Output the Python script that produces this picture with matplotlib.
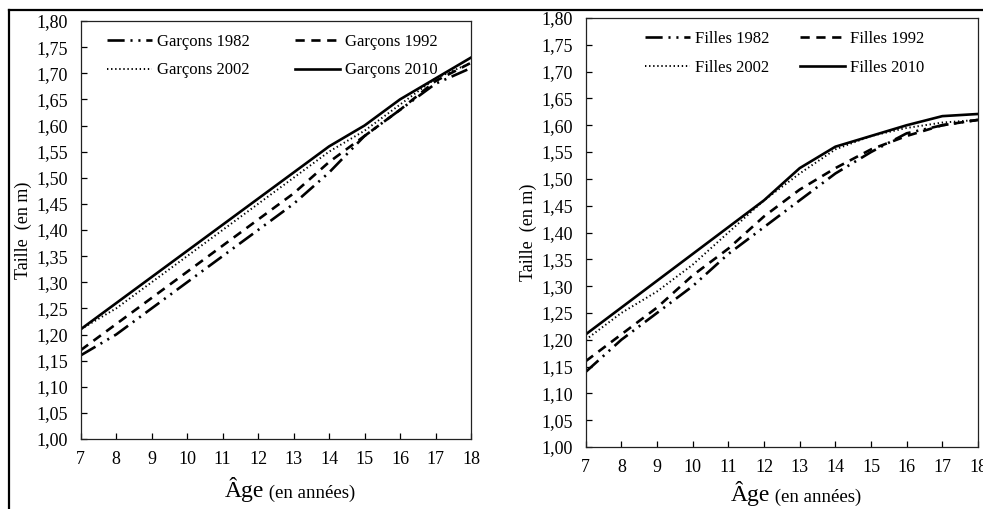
import numpy as np
import matplotlib.pyplot as plt
from matplotlib.lines import Line2D

# ages (years)
ages = [7, 8, 9, 10, 11, 12, 13, 14, 15, 16, 17, 18]

# heights (m) - boys
garcons_1982 = [1.16, 1.20, 1.25, 1.30, 1.35, 1.40, 1.45, 1.51, 1.58, 1.63, 1.68, 1.71]
garcons_1992 = [1.17, 1.22, 1.27, 1.32, 1.37, 1.42, 1.47, 1.53, 1.58, 1.63, 1.685, 1.72]
garcons_2002 = [1.21, 1.25, 1.30, 1.35, 1.40, 1.45, 1.50, 1.55, 1.59, 1.64, 1.69, 1.72]
garcons_2010 = [1.21, 1.26, 1.31, 1.36, 1.41, 1.46, 1.51, 1.56, 1.60, 1.65, 1.69, 1.73]

# heights (m) - girls
filles_1982 = [1.14, 1.20, 1.25, 1.30, 1.36, 1.41, 1.46, 1.51, 1.55, 1.585, 1.60, 1.61]
filles_1992 = [1.16, 1.21, 1.26, 1.32, 1.37, 1.43, 1.48, 1.52, 1.555, 1.58, 1.60, 1.61]
filles_2002 = [1.20, 1.25, 1.29, 1.34, 1.40, 1.46, 1.51, 1.555, 1.58, 1.595, 1.605, 1.61]
filles_2010 = [1.21, 1.26, 1.31, 1.36, 1.41, 1.46, 1.52, 1.56, 1.58, 1.60, 1.617, 1.621]

yticks = np.round(np.arange(1.00, 1.801, 0.05), 2)
ytick_labels = ['{:.2f}'.format(v).replace('.', ',') for v in yticks]

plt.rcParams['font.family'] = ['Liberation Serif', 'DejaVu Serif']

# line styles: dash-dot-dot, dashed, dotted, solid
styles = [
    dict(dashes=(6.5, 2.2, 0.8, 2.2, 0.8, 2.2), lw=1.9),
    dict(dashes=(3.5, 2.5), lw=1.9),
    dict(dashes=(0.7, 1.4), lw=1.4),
    dict(linestyle='-', lw=1.9),
]

fig = plt.figure(figsize=(9.83, 5.09), dpi=100)

# outer frame (top and left only)
fig.add_artist(Line2D([9/983, 1], [1 - 10/509, 1 - 10/509], color='black', lw=1.6,
                      transform=fig.transFigure))
fig.add_artist(Line2D([9/983, 9/983], [0, 1 - 10/509], color='black', lw=1.6,
                      transform=fig.transFigure))


def draw_panel(rect, series, labels, leg_anchor, colsp, label_y, ylab_x):
    ax = fig.add_axes(rect)
    lines = []
    for s, lab, st in zip(series, labels, styles):
        ln, = ax.plot(ages, s, color='black', label=lab, **st)
        lines.append(ln)
    ax.set_xlim(7, 18)
    ax.set_ylim(1.0, 1.8)
    ax.set_xticks(ages)
    ax.set_yticks(yticks)
    ax.set_yticklabels(ytick_labels)
    ax.tick_params(direction='in', length=4, width=0.9, labelsize=13)
    ax.tick_params(axis='y', pad=9)
    ax.tick_params(axis='x', pad=9)
    for sp in ax.spines.values():
        sp.set_linewidth(0.9)
        sp.set_color('#222222')
    ax.set_ylabel('Taille  (en m)', fontsize=13)
    ax.yaxis.set_label_coords(ylab_x, 0.5)
    # legend filled row by row: 1982, 1992 / 2002, 2010
    order = [0, 2, 1, 3]
    ax.legend([lines[i] for i in order], [labels[i] for i in order],
              ncol=2, frameon=False, loc='upper left', bbox_to_anchor=leg_anchor,
              fontsize=12, handlelength=2.7, handletextpad=0.3,
              columnspacing=colsp, labelspacing=0.75, borderaxespad=0)
    # x label with a larger "Âge"
    t1 = ax.text(0.47, label_y, 'Âge', fontsize=17, ha='right', va='baseline',
                 transform=ax.transAxes)
    ax.annotate(' (en années)', xy=(1, 0), xycoords=t1, fontsize=13.5,
                ha='left', va='bottom')
    return ax


draw_panel([80.7/983, 1 - 439/509, (471 - 80.7)/983, (439 - 21)/509],
           [garcons_1982, garcons_1992, garcons_2002, garcons_2010],
           ['Garçons 1982', 'Garçons 1992', 'Garçons 2002', 'Garçons 2010'],
           (0.05, 0.985), 2.7, -0.138, -0.125)

draw_panel([585.7/983, 1 - 447/509, (978 - 585.7)/983, (447 - 18)/509],
           [filles_1982, filles_1992, filles_2002, filles_2010],
           ['Filles 1982', 'Filles 1992', 'Filles 2002', 'Filles 2010'],
           (0.135, 0.985), 1.8, -0.125, -0.125)

plt.savefig('out.png', dpi=100)
